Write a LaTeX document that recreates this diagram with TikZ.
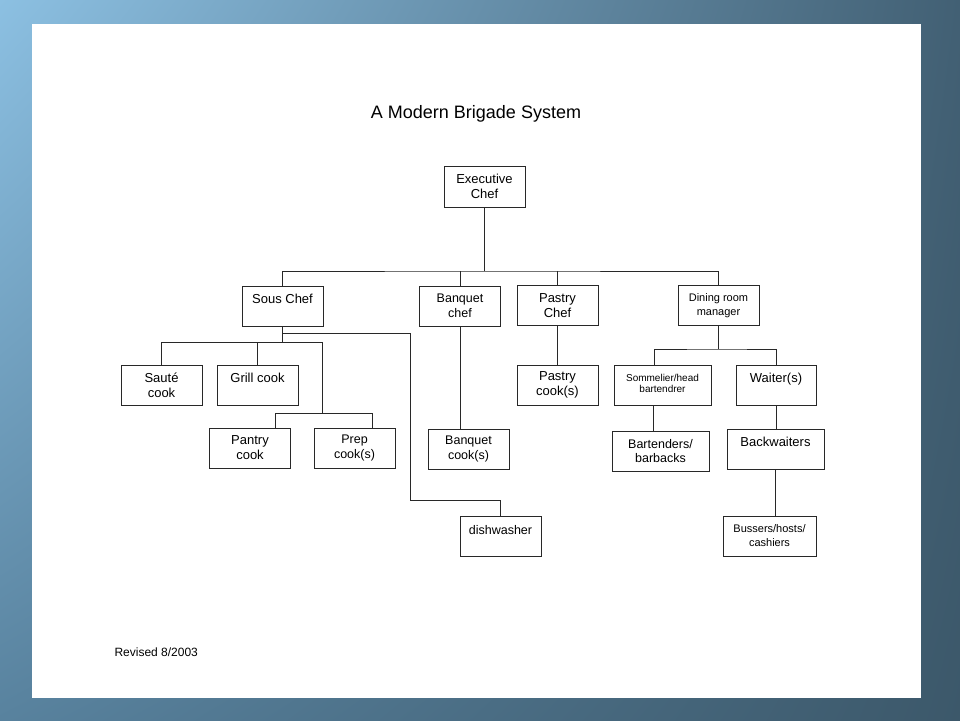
\documentclass[tikz,border=0pt]{standalone}
\usepackage{fontspec}
\setmainfont{Liberation Sans}
\usepackage{tikz}
\usetikzlibrary{shapes,arrows,positioning,calc,fit,backgrounds,shadings}

\definecolor{bgul}{RGB}{140,192,226}
\definecolor{bgur}{RGB}{66,96,116}
\definecolor{bgll}{RGB}{88,130,158}
\definecolor{bglr}{RGB}{60,88,106}
\definecolor{boxline}{RGB}{40,40,40}

\tikzset{
    box/.style={draw=boxline, line width=1pt, minimum width=81pt, minimum height=40pt,
                inner sep=0pt, align=center, font=\fontsize{13}{15}\selectfont},
    smallbox/.style={box, font=\fontsize{12.5}{14.5}\selectfont},
    tinybox/.style={box, font=\fontsize{11}{14}\selectfont},
    link/.style={draw=boxline, line width=0.9pt}
}

\begin{document}
\begin{tikzpicture}[x=1pt,y=-1pt]
                    \useasboundingbox (0,0) rectangle (960,720);
                    \shade[upper left=bgul, upper right=bgur, lower left=bgll, lower right=bglr] (0,0) rectangle (960,720);
                    \fill[white] (32,24) rectangle (921,698);

                    \node[font=\fontsize{18}{20}\selectfont] (title) at (476,114) {A Modern Brigade System};

                    % top levels
                    \node[box, minimum height=41pt] (exec) at (484.5,186.5) {Executive\\Chef};
                    \node[box] (sous) at (282.5,306) {Sous Chef\\[-6pt]\strut};
                    \node[smallbox] (banqchef) at (460,306) {Banquet\\chef};
                    \node[box] (pastrychef) at (557.5,305.5) {Pastry\\Chef};
                    \node[tinybox] (dining) at (718.5,305.5) {Dining room\\manager};

                    % kitchen
                    \node[box] (saute) at (161.5,385) {Saut\'e\\cook};
                    \node[box] (grill) at (257.5,385) {Grill cook\\[-6pt]\strut};
                    \node[box] (pantry) at (250,448) {Pantry\\cook};
                    \node[smallbox] (prep) at (354.5,448) {Prep\\cook(s)};
                    \node[smallbox] (dish) at (500.5,536) {dishwasher\\[-6pt]\strut};
                    \node[smallbox] (banqcook) at (468.5,449) {Banquet\\cook(s)};
                    \node[box] (pastrycook) at (557.5,385) {Pastry\\cook(s)};

                    % dining room
                    \node[box, font=\fontsize{10}{11.5}\selectfont, minimum width=97pt] (somm) at (662.5,385) {Sommelier/head\\bartendrer\\[-8pt]\mbox{}};
                    \node[box, minimum width=80pt] (waiter) at (776,385) {Waiter(s)\\[-6pt]\strut};
                    \node[smallbox, minimum width=97pt] (bartend) at (660.5,451) {Bartenders/\\barbacks};
                    \node[box, minimum width=97pt] (backw) at (775.5,449) {Backwaiters\\[-6pt]\strut};
                    \node[tinybox, minimum width=93pt] (bussers) at (769.5,536) {Bussers/hosts/\\cashiers};

                    % connectors
                    \draw[link] (exec.south) -- ++(0,63.5) coordinate (topbus);
                    \draw[link] (sous.north) |- (topbus) -| (dining.north);
                    \draw[link] (banqchef.north) -- (banqchef.north|-topbus);
                    \draw[link] (pastrychef.north) -- (pastrychef.north|-topbus);

                    \draw[link] (sous.south) -- ++(0,16) coordinate (cookbus);
                    \draw[link] (saute.north) |- (cookbus) -- ++(39.5,0) -- ++(0,71) coordinate (prepbus);
                    \draw[link] (grill.north) -- (grill.north|-cookbus);
                    \draw[link] ([xshift=25pt]pantry.north) |- (prepbus) -| ([xshift=17.5pt]prep.north);
                    \draw[link] (sous.south) -- ++(0,7) -- ++(127.5,0) -- ++(0,167) -| (dish.north);

                    \draw[link] (banqchef.south) -- (banqchef.south|-banqcook.north);
                    \draw[link] (pastrychef.south) -- (pastrycook.north);

                    \draw[link] (dining.south) -- ++(0,23) coordinate (dinebus);
                    \draw[link] ([xshift=-8.5pt]somm.north) |- (dinebus) -| (waiter.north);
                    \draw[link] ([xshift=-9.5pt]somm.south) -- ([xshift=-9.5pt]somm.south|-bartend.north);
                    \draw[link] (waiter.south) -- (waiter.south|-backw.north);
                    \draw[link] (backw.south) -- (backw.south|-bussers.north);

                    \node[font=\fontsize{12}{14}\selectfont, anchor=west] (revised) at (111,652) {Revised 8/2003};
                \end{tikzpicture}
\end{document}
